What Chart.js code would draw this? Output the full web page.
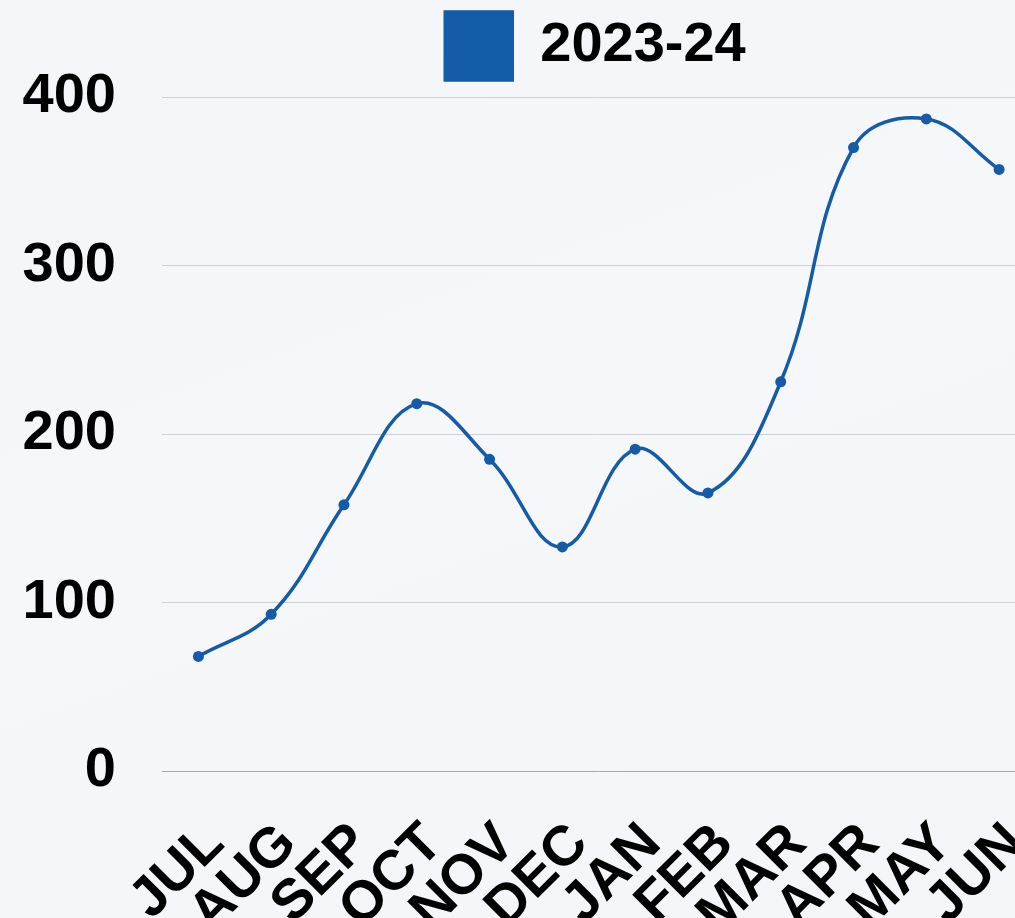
<!DOCTYPE html>
<html>
<head>
<meta charset="utf-8">
<script src="https://cdn.jsdelivr.net/npm/chart.js@4/dist/chart.umd.min.js"></script>
<style>
  html, body { margin: 0; padding: 0; overflow: hidden; }
  body {
    width: 1015px; height: 918px;
    background: linear-gradient(160deg, #f3f5f8 0%, #f6f7f9 45%, #f3f5f8 100%);
  }
  #wrap { position: absolute; left: 0; top: 0; width: 1041px; height: 960px; }
</style>
</head>
<body>
<div id="wrap"><canvas id="chart"></canvas></div>
<script>
const months = ["JUL", "AUG", "SEP", "OCT", "NOV", "DEC", "JAN", "FEB", "MAR", "APR", "MAY", "JUN"];
const values = [68, 93, 158, 218, 185, 133, 191, 165, 231, 370, 387, 357];
const seriesName = "2023-24";
const yTicks = [0, 100, 200, 300, 400];

const blue = "#155ca8";
const font = { family: "'Liberation Sans', Arial, sans-serif", size: 56, weight: "bold" };

// legend a bit taller so the plot starts lower, and centred over the plot area
const legendPlace = {
  id: "legendPlace",
  beforeLayout(chart) {
    const lg = chart.legend;
    if (lg && !lg._patched) {
      const fit = lg.fit;
      lg.fit = function () { fit.call(this); this.height += 7; };
      lg._patched = true;
    }
  },
  afterLayout(chart) {
    const lg = chart.legend;
    if (lg) { lg.left = 150; lg.width = lg.right - lg.left; }
  }
};

new Chart(document.getElementById("chart"), {
  type: "line",
  data: {
    labels: months,
    datasets: [{
      label: seriesName,
      data: values,
      borderColor: blue,
      backgroundColor: blue,
      borderWidth: 3.5,
      pointRadius: 5.5,
      pointBackgroundColor: blue,
      pointBorderWidth: 0,
      tension: 0.4,
      fill: false
    }]
  },
  options: {
    responsive: true,
    maintainAspectRatio: false,
    animation: false,
    layout: { padding: { top: 2, right: 0, left: 0, bottom: 0 } },
    plugins: {
      legend: {
        labels: {
          color: "#000",
          font: font,
          boxWidth: 67,
          boxHeight: 68,
          padding: 10
        }
      },
      tooltip: { enabled: false }
    },
    scales: {
      x: {
        offset: true,
        grid: { display: false },
        border: { display: false },
        afterFit: axis => { axis.paddingLeft = 0; axis.paddingRight = 0; axis.height = 189; },
        ticks: {
          color: "#000",
          font: font,
          maxRotation: 45,
          minRotation: 45,
          autoSkip: false,
          padding: 32,
          labelOffset: 17
        }
      },
      y: {
        min: yTicks[0],
        max: yTicks[yTicks.length - 1],
        afterBuildTicks: axis => { axis.ticks = yTicks.map(v => ({ value: v })); },
        afterFit: axis => { axis.width = 162; axis.paddingTop = 0; axis.paddingBottom = 0; },
        grid: {
          drawTicks: false,
          color: ctx => ctx.tick && ctx.tick.value === 0 ? "#a8a8a8" : "#cfd1d4",
          lineWidth: 1
        },
        border: { display: false },
        ticks: {
          color: "#000",
          font: font,
          padding: 46
        }
      }
    }
  },
  plugins: [legendPlace]
});
</script>
</body>
</html>
